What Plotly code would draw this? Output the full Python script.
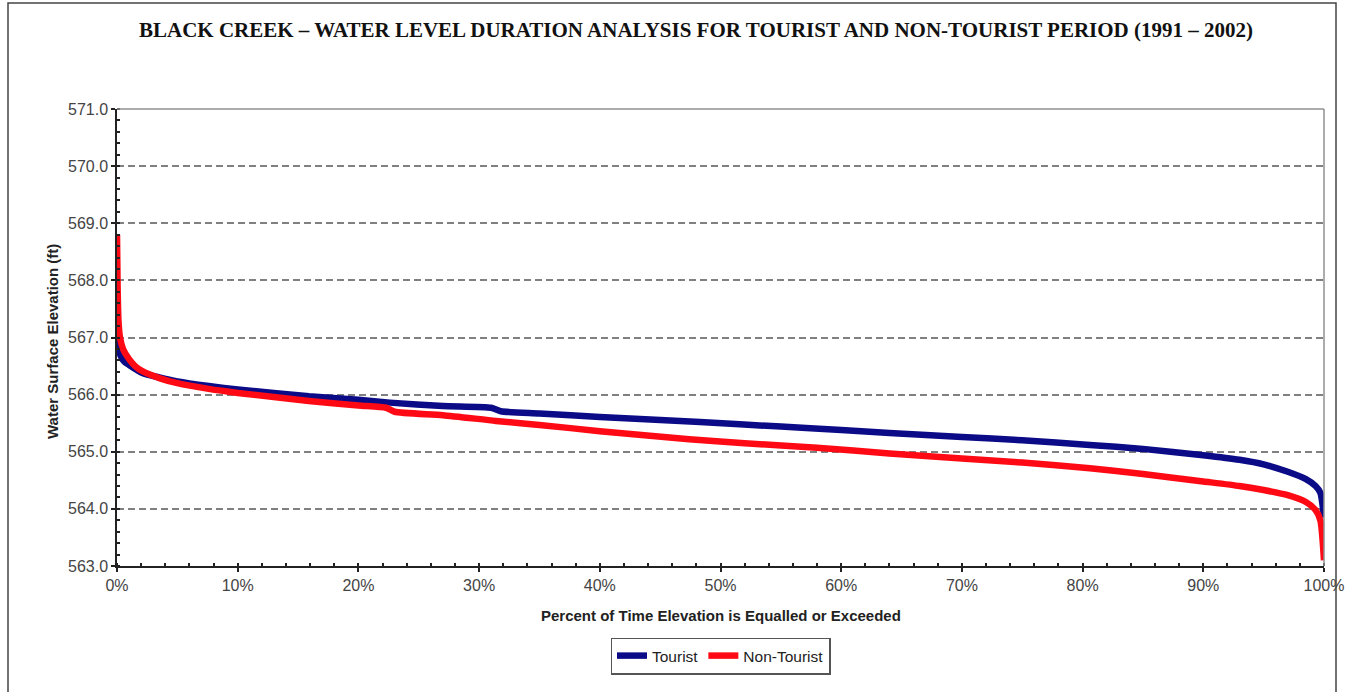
import plotly.graph_objects as go

# Duration curves: percent of time elevation is equalled or exceeded vs. water surface elevation (ft)
tourist_pct = [0, 0.1, 0.3, 0.6, 1.0, 2.1, 3.5, 5, 7.6, 10, 15.9, 20, 22.6, 27,
               31.0, 31.8, 35, 40, 48.3, 55, 60, 64, 70, 75, 80.6, 85, 90, 93,
               95, 97, 98.5, 99.3, 99.7, 100]
tourist_elev = [567.30, 566.90, 566.68, 566.58, 566.52, 566.38, 566.30, 566.23,
                566.15, 566.09, 565.97, 565.91, 565.86, 565.80, 565.77, 565.71,
                565.67, 565.61, 565.52, 565.44, 565.38, 565.33, 565.26, 565.20,
                565.12, 565.05, 564.94, 564.86, 564.78, 564.65, 564.52, 564.40,
                564.28, 563.85]

nontourist_pct = [0, 0.05, 0.12, 0.25, 0.5, 1.0, 1.5, 2.1, 3.5, 5, 7.6, 10, 15.9,
                  20, 22.3, 23.0, 27, 31.4, 35, 40, 47.4, 52, 58, 64, 70, 75,
                  80.6, 85, 90, 93, 95, 97, 98.5, 99.3, 99.7, 100]
nontourist_elev = [568.80, 567.90, 567.30, 567.00, 566.80, 566.62, 566.50, 566.41,
                   566.29, 566.20, 566.10, 566.03, 565.89, 565.81, 565.77, 565.70,
                   565.64, 565.54, 565.47, 565.36, 565.22, 565.15, 565.07, 564.97,
                   564.88, 564.81, 564.71, 564.61, 564.48, 564.40, 564.33, 564.24,
                   564.12, 563.98, 563.80, 563.10]

x_ticks = [0, 10, 20, 30, 40, 50, 60, 70, 80, 90, 100]
x_tick_labels = ["0%", "10%", "20%", "30%", "40%", "50%", "60%", "70%", "80%", "90%", "100%"]
y_ticks = [563, 564, 565, 566, 567, 568, 569, 570, 571]
y_tick_labels = ["563.0", "564.0", "565.0", "566.0", "567.0", "568.0", "569.0", "570.0", "571.0"]

title_text = ("BLACK CREEK \u2013 WATER LEVEL DURATION ANALYSIS FOR TOURIST AND "
              "NON-TOURIST PERIOD (1991 \u2013 2002)")

SANS = "Liberation Sans, Arial, sans-serif"
SERIF = "Liberation Serif, Times New Roman, serif"

fig = go.Figure()
fig.add_trace(go.Scatter(x=tourist_pct, y=tourist_elev, mode="lines", name="Tourist",
                         line=dict(color="#0b0b88", width=6.5, shape="spline", smoothing=0.6)))
fig.add_trace(go.Scatter(x=nontourist_pct, y=nontourist_elev, mode="lines",
                         name="Non-Tourist",
                         line=dict(color="#ff0a14", width=6.5, shape="spline", smoothing=0.6)))

fig.update_layout(
    width=1345, height=692,
    margin=dict(l=117, r=21, t=109, b=126, autoexpand=False),
    paper_bgcolor="white", plot_bgcolor="white",
    font=dict(family=SANS, size=16, color="#333333"),
    showlegend=True,
    legend=dict(orientation="h", x=0.5, xanchor="center", y=-0.197, yanchor="middle",
                bordercolor="#555555", borderwidth=1.5, bgcolor="white",
                font=dict(family=SANS, size=15.5, color="#222222"),
                itemwidth=30, tracegroupgap=0),
)

fig.update_xaxes(
    range=[0, 100], tickvals=x_ticks, ticktext=x_tick_labels, automargin=False,
    showline=True, linecolor="#222222", linewidth=1.5, mirror=False,
    ticks="outside", ticklen=4, tickcolor="#222222", tickwidth=1.5,
    showgrid=False, zeroline=False,
    tickfont=dict(family=SANS, size=16, color="#444444"),
    minor=dict(dtick=2, ticks="inside", ticklen=3, tickcolor="#222222", showgrid=False),
)
fig.update_yaxes(
    range=[563, 571], tickvals=y_ticks, ticktext=y_tick_labels, automargin=False,
    showline=True, linecolor="#222222", linewidth=1.5, mirror=False,
    ticks="outside", ticklen=4, tickcolor="#222222", tickwidth=1.5,
    showgrid=True, gridcolor="#808080", gridwidth=1.5, griddash="7px,4px",
    zeroline=False,
    tickfont=dict(family=SANS, size=16, color="#444444"),
    minor=dict(dtick=0.2, ticks="inside", ticklen=3, tickcolor="#222222", showgrid=False),
)

# Grey frame on the top and right of the plotting area
fig.add_shape(type="line", xref="paper", yref="paper", x0=0, x1=1, y0=1, y1=1,
              line=dict(color="#909090", width=1.5))
fig.add_shape(type="line", xref="paper", yref="paper", x0=1, x1=1, y0=0, y1=1,
              line=dict(color="#909090", width=1.5))

# Outer chart border
fig.add_shape(type="rect", xref="paper", yref="paper",
              x0=(8 - 117) / 1207, x1=(1336 - 117) / 1207,
              y0=(566 - 720) / 457, y1=(566 - 3) / 457,
              line=dict(color="#444444", width=1.5), layer="below")

# Title and axis titles
fig.add_annotation(text="<b>" + title_text + "</b>", xref="paper", yref="paper",
                   x=(696 - 117) / 1207, y=(566 - 30) / 457, xanchor="center",
                   yanchor="middle", showarrow=False,
                   font=dict(family=SERIF, size=21, color="#111111"))
fig.add_annotation(text="<b>Percent of Time Elevation is Equalled or Exceeded</b>",
                   xref="paper", yref="paper", x=(721 - 117) / 1207,
                   y=(566 - 615) / 457, xanchor="center", yanchor="middle",
                   showarrow=False, font=dict(family=SANS, size=15, color="#222222"))
fig.add_annotation(text="<b>Water Surface Elevation (ft)</b>", xref="paper", yref="paper",
                   x=(52 - 117) / 1207, y=(566 - 342) / 457, xanchor="center",
                   yanchor="middle", textangle=-90, showarrow=False,
                   font=dict(family=SANS, size=15, color="#222222"))

fig.write_html("out.html")
